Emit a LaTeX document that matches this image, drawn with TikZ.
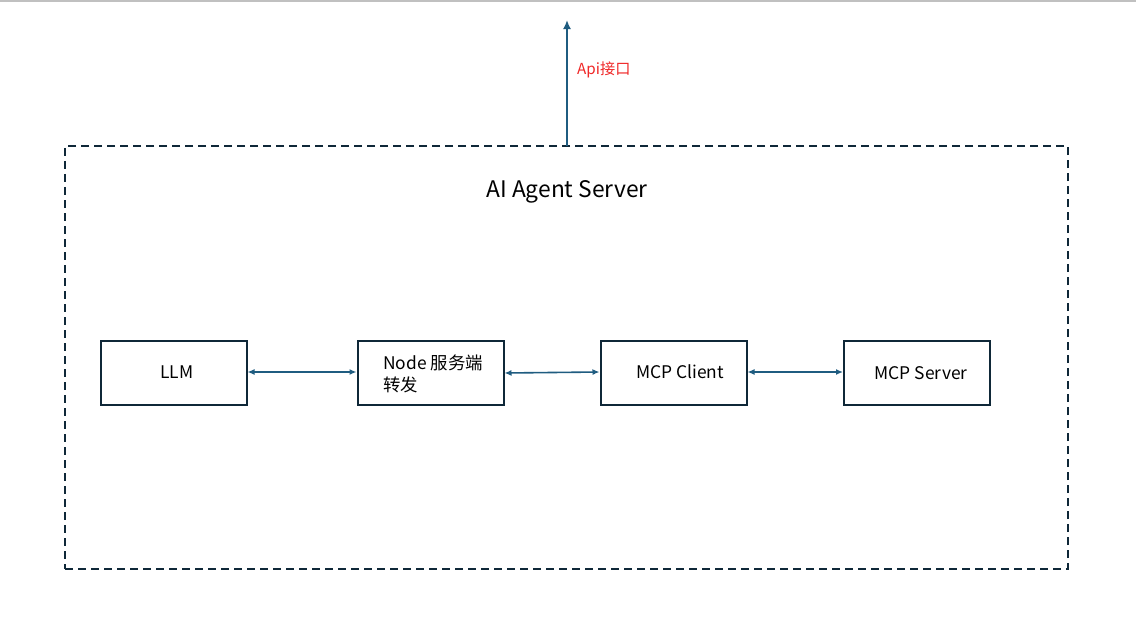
\documentclass[tikz,border=0pt]{standalone}
\usepackage{fontspec}
\setmainfont{Noto Sans CJK SC}
\usetikzlibrary{arrows.meta}
\definecolor{boxline}{HTML}{0F2838}
\definecolor{arrowc}{HTML}{1F5C80}
\definecolor{redtxt}{HTML}{F02828}
\definecolor{topline}{HTML}{C0C0C0}
\tikzset{
  compbox/.style={draw=boxline, line width=2pt, minimum width=146pt, minimum height=64pt, inner sep=0pt},
  boxtext/.style={font=\fontsize{17.4}{21}\selectfont},
  biarrow/.style={draw=arrowc, line width=1.6pt, {Latex[length=7pt,width=6pt]}-{Latex[length=7pt,width=6pt]}},
  uparrow/.style={draw=arrowc, line width=2pt, -{Latex[length=9pt,width=8pt]}},
}
\begin{document}
\begin{tikzpicture}[x=1pt,y=-1pt]
\useasboundingbox[fill=white] (0,0) rectangle (1136,621);
\draw[topline, line width=1.5pt] (0,0.75) -- (1136,0.75);
% outer dashed frame
\node[draw=boxline, line width=2pt, dash pattern=on 8pt off 5pt, minimum width=1003pt, minimum height=423pt, inner sep=0pt] (frame) at (566.5,357.5) {};
\node[font=\fontsize{22.8}{27}\selectfont] (title) at (567,192) {AI Agent Server};
% api arrow
\coordinate (apitop) at (567,20);
\draw[uparrow] (567,146) -- (apitop);
\node[text=redtxt, font=\fontsize{15.2}{18}\selectfont, anchor=west, inner sep=0pt] (api) at (577,70) {Api接口};
% boxes
\node[compbox] (llm) at (173.5,372.5) {};
\node[boxtext] (llmt) at (177,372) {LLM};
\node[compbox] (node) at (430.5,372.5) {};
\node[anchor=west, font=\fontsize{17.4}{22}\selectfont, align=left, inner sep=0pt] (nodet) at (383,374) {Node 服务端\\转发};
\node[compbox] (client) at (673.5,372.5) {};
\node[boxtext] (clientt) at (680,372) {MCP Client};
\node[compbox] (server) at (917,372.5) {};
\node[boxtext] (servert) at (921,373) {MCP Server};
% connectors
\draw[biarrow] (llm.east |- 0,372) -- (node.west |- 0,372);
\draw[biarrow] (node.east |- 0,373) -- (client.west |- 0,372);
\draw[biarrow] (client.east |- 0,372) -- (server.west |- 0,372);
\end{tikzpicture}
\end{document}
